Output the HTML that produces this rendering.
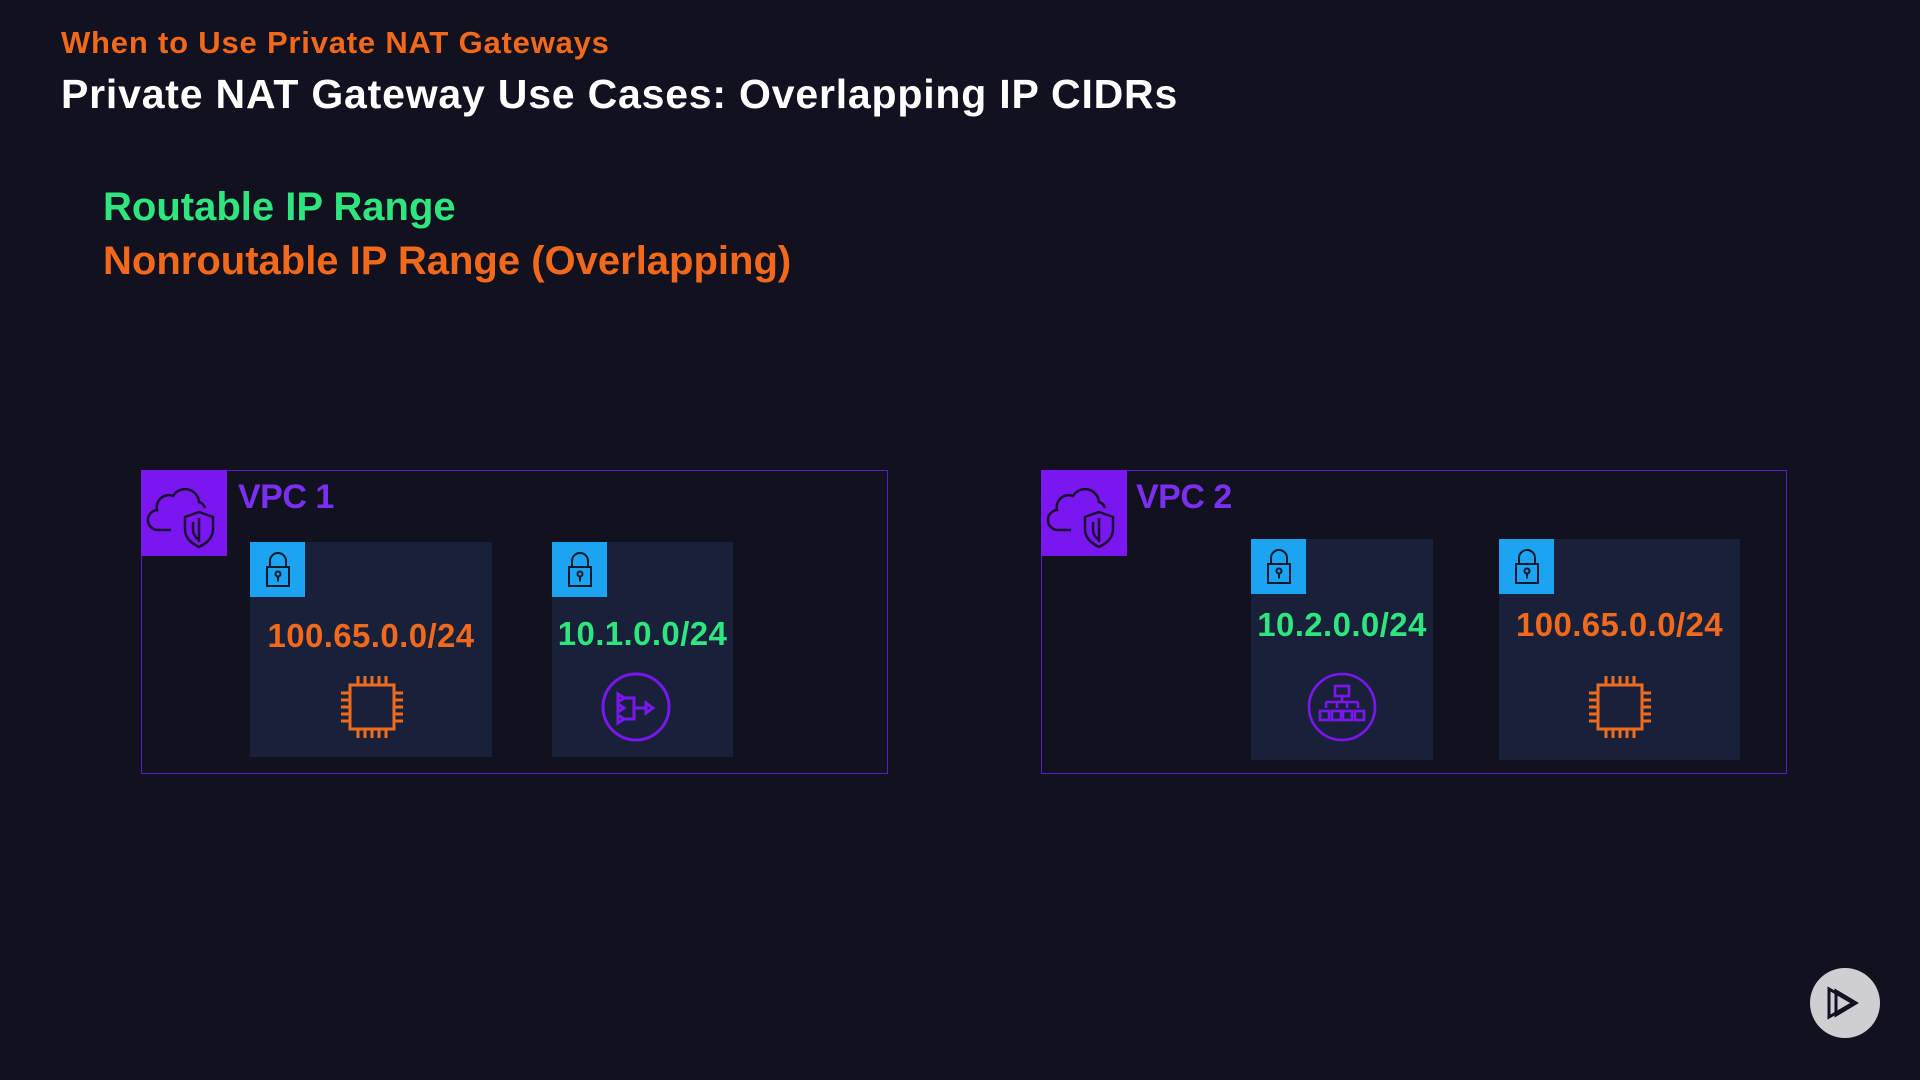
<!DOCTYPE html>
<html><head><meta charset="utf-8"><style>
html,body{margin:0;padding:0;}
body{width:1920px;height:1080px;background:#12111f;position:relative;overflow:hidden;font-family:"Liberation Sans",sans-serif;font-weight:bold;}
.t{position:absolute;white-space:nowrap;line-height:1;}
.vpc{position:absolute;border:1.5px solid #5a1bc8;box-sizing:border-box;}
.vicon{position:absolute;background:#7a16f0;width:86px;height:86px;}
.sub{position:absolute;background:#19213a;}
.lock{position:absolute;left:0;top:0;width:55px;height:55px;background:#1ca3f2;}
.cidr{font-size:33px;letter-spacing:0.4px;}
</style></head><body>
<div class="t" style="left:61px;top:27px;font-size:31px;color:#f2691b;letter-spacing:0.8px">When to Use Private NAT Gateways</div>
<div class="t" style="left:61px;top:74px;font-size:41px;color:#ffffff;letter-spacing:0.8px">Private NAT Gateway Use Cases: Overlapping IP CIDRs</div>
<div class="t" style="left:103px;top:187px;font-size:40px;color:#2ee57e;letter-spacing:0px">Routable IP Range</div>
<div class="t" style="left:103px;top:241px;font-size:40px;color:#f2691b;letter-spacing:0px">Nonroutable IP Range (Overlapping)</div>

<!-- VPC 1 -->
<div class="vpc" style="left:141px;top:470px;width:747px;height:304px"></div>
<div class="vicon" style="left:141px;top:470px">
<svg width="86" height="86" viewBox="0 0 86 86" fill="none" stroke="#1a1030" stroke-width="2.5"><path d="M30 60 H18 a10 10 0 0 1 -2 -20 a12 12 0 0 1 16 -14 a14 14 0 0 1 26 6 a9 9 0 0 1 6 6"/><path d="M58 42 l14 5 v12 c0 9 -6 14 -14 18 c-8 -4 -14 -9 -14 -18 v-12 z"/><path d="M58 48 v24 M52 52 v8 c0 5 3 8 6 10"/></svg></div>
<div class="t" style="left:238px;top:480px;font-size:34px;color:#7a2ff2;letter-spacing:-0.5px">VPC 1</div>

<div class="sub" style="left:250px;top:542px;width:242px;height:215px">
<div class="lock"><svg width="55" height="55" viewBox="0 0 55 55" fill="none" stroke="#0c1a2e" stroke-width="2"><rect x="17" y="25" width="22" height="19"/><path d="M20 25 v-6 a8 8 0 0 1 16 0 v6"/><circle cx="28" cy="32" r="2.5"/><path d="M28 34.5 v5"/></svg></div>
<div class="t cidr" style="left:0;width:242px;text-align:center;top:77px;color:#f2691b">100.65.0.0/24</div>
<svg style="position:absolute;left:86px;top:129px" width="72" height="72" viewBox="0 0 72 72" fill="none" stroke="#ef6c1d" stroke-width="3"><rect x="14" y="14" width="44" height="44"/><path d="M22 14v-9M29 14v-9M36 14v-9M43 14v-9M50 14v-9M22 58v9M29 58v9M36 58v9M43 58v9M50 58v9M14 22h-9M14 29h-9M14 36h-9M14 43h-9M14 50h-9M58 22h9M58 29h9M58 36h9M58 43h9M58 50h9"/></svg>
</div>

<div class="sub" style="left:552px;top:542px;width:181px;height:215px">
<div class="lock"><svg width="55" height="55" viewBox="0 0 55 55" fill="none" stroke="#0c1a2e" stroke-width="2"><rect x="17" y="25" width="22" height="19"/><path d="M20 25 v-6 a8 8 0 0 1 16 0 v6"/><circle cx="28" cy="32" r="2.5"/><path d="M28 34.5 v5"/></svg></div>
<div class="t cidr" style="left:0;width:181px;text-align:center;top:75px;color:#2ee57e">10.1.0.0/24</div>
<svg style="position:absolute;left:49px;top:130px" width="70" height="70" viewBox="0 0 70 70" fill="none" stroke="#7a16f0" stroke-width="3"><circle cx="35" cy="35" r="33"/><path d="M17 22 l6 4 -6 4z M17 32 l6 4 -6 4z M17 43 l6 4 -6 4z M23 26 h10 v21 h-10 M33 36 h12 M45 31 l7 5 -7 5z"/></svg>
</div>

<!-- VPC 2 -->
<div class="vpc" style="left:1041px;top:470px;width:746px;height:304px"></div>
<div class="vicon" style="left:1041px;top:470px">
<svg width="86" height="86" viewBox="0 0 86 86" fill="none" stroke="#1a1030" stroke-width="2.5"><path d="M30 60 H18 a10 10 0 0 1 -2 -20 a12 12 0 0 1 16 -14 a14 14 0 0 1 26 6 a9 9 0 0 1 6 6"/><path d="M58 42 l14 5 v12 c0 9 -6 14 -14 18 c-8 -4 -14 -9 -14 -18 v-12 z"/><path d="M58 48 v24 M52 52 v8 c0 5 3 8 6 10"/></svg></div>
<div class="t" style="left:1136px;top:480px;font-size:34px;color:#7a2ff2;letter-spacing:-0.5px">VPC 2</div>

<div class="sub" style="left:1251px;top:539px;width:182px;height:221px">
<div class="lock"><svg width="55" height="55" viewBox="0 0 55 55" fill="none" stroke="#0c1a2e" stroke-width="2"><rect x="17" y="25" width="22" height="19"/><path d="M20 25 v-6 a8 8 0 0 1 16 0 v6"/><circle cx="28" cy="32" r="2.5"/><path d="M28 34.5 v5"/></svg></div>
<div class="t cidr" style="left:0;width:182px;text-align:center;top:69px;color:#2ee57e">10.2.0.0/24</div>
<svg style="position:absolute;left:56px;top:133px" width="70" height="70" viewBox="0 0 70 70" fill="none" stroke="#7a16f0" stroke-width="2.6"><circle cx="35" cy="35" r="33"/><rect x="28" y="14" width="14" height="10"/><path d="M35 24 v6 M19 30 h32 M19 30 v6 M30 30 v6 M40 30 v6 M51 30 v6"/><rect x="13" y="39" width="9" height="9"/><rect x="25" y="39" width="9" height="9"/><rect x="36" y="39" width="9" height="9"/><rect x="48" y="39" width="9" height="9"/></svg>
</div>

<div class="sub" style="left:1499px;top:539px;width:241px;height:221px">
<div class="lock"><svg width="55" height="55" viewBox="0 0 55 55" fill="none" stroke="#0c1a2e" stroke-width="2"><rect x="17" y="25" width="22" height="19"/><path d="M20 25 v-6 a8 8 0 0 1 16 0 v6"/><circle cx="28" cy="32" r="2.5"/><path d="M28 34.5 v5"/></svg></div>
<div class="t cidr" style="left:0;width:241px;text-align:center;top:69px;color:#f2691b">100.65.0.0/24</div>
<svg style="position:absolute;left:85px;top:132px" width="72" height="72" viewBox="0 0 72 72" fill="none" stroke="#ef6c1d" stroke-width="3"><rect x="14" y="14" width="44" height="44"/><path d="M22 14v-9M29 14v-9M36 14v-9M43 14v-9M50 14v-9M22 58v9M29 58v9M36 58v9M43 58v9M50 58v9M14 22h-9M14 29h-9M14 36h-9M14 43h-9M14 50h-9M58 22h9M58 29h9M58 36h9M58 43h9M58 50h9"/></svg>
</div>

<!-- play logo -->
<svg style="position:absolute;left:1809px;top:968px" width="72" height="72" viewBox="0 0 72 72"><circle cx="36" cy="35" r="35" fill="#cfcfd3"/><path d="M20 21 v28 l24 -14z M27 23 v24 l20 -12z" fill="none" stroke="#12111f" stroke-width="3" stroke-linejoin="miter"/></svg>
</body></html>
